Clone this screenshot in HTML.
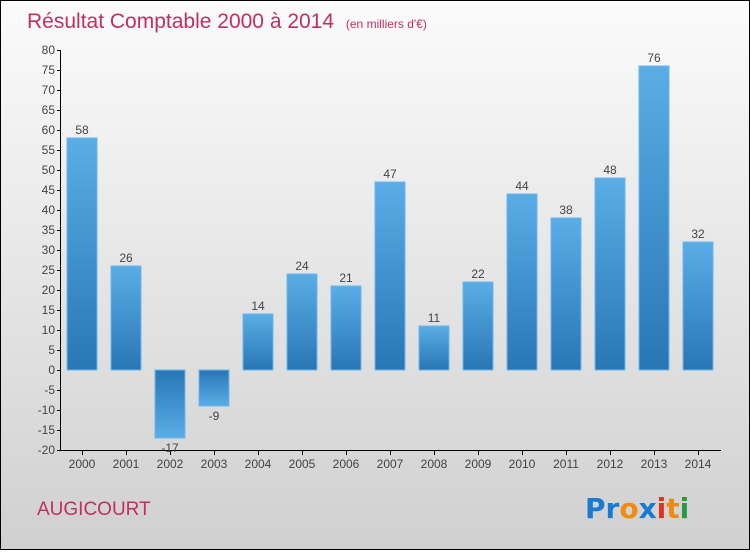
<!DOCTYPE html>
<html><head><meta charset="utf-8"><style>
html,body{margin:0;padding:0}
body{width:750px;height:550px;overflow:hidden;font-family:"Liberation Sans",sans-serif}
#wrap{position:absolute;left:0;top:0;width:748px;height:548px;border:1px solid #000;background:linear-gradient(#fbfbfb,#d0d0d0)}
</style></head><body>
<div id="wrap">
<svg id="chart" width="748" height="548" xmlns="http://www.w3.org/2000/svg">
<defs>
<linearGradient id="gp" x1="0" y1="0" x2="0" y2="1"><stop offset="0" stop-color="#5aade6"/><stop offset="1" stop-color="#2777b5"/></linearGradient>
<linearGradient id="gn" x1="0" y1="0" x2="0" y2="1"><stop offset="0" stop-color="#2777b5"/><stop offset="1" stop-color="#5aade6"/></linearGradient>
</defs>
<text x="26" y="27" font-size="21" fill="#c0305e">Résultat Comptable 2000 à 2014 <tspan font-size="12" dx="6">(en milliers d'€)</tspan></text>
<text x="36" y="514" font-size="19" fill="#c0305e">AUGICOURT</text>
<g font-size="28" font-weight="bold" font-family="'DejaVu Sans',sans-serif">
<text x="584" y="517"><tspan fill="#1a7ad0">Pr</tspan><tspan fill="#f08a10">o</tspan><tspan fill="#1a7ad0">x</tspan><tspan fill="#e03020">i</tspan><tspan fill="#f08a10">t</tspan><tspan fill="#2a9a40">i</tspan></text>
</g>
<g id="axes"></g><g id="bars"></g>
</svg></div>
<script>
const years=["2000","2001","2002","2003","2004","2005","2006","2007","2008","2009","2010","2011","2012","2013","2014"];
const values=[58,26,-17,-9,14,24,21,47,11,22,44,38,48,76,32];
const yTicks=[-20,-15,-10,-5,0,5,10,15,20,25,30,35,40,45,50,55,60,65,70,75,80];
const NS="http://www.w3.org/2000/svg";
const y=v=>369-(v*4);
const x=i=>81+i*44;
function mk(t,a,p){const e=document.createElementNS(NS,t);for(const k in a)e.setAttribute(k,a[k]);p.appendChild(e);return e;}
const ax=document.getElementById('axes'),bs=document.getElementById('bars');
let l=mk('line',{x1:59.5,y1:49,x2:59.5,y2:449.5,stroke:'#000'},ax);


l=mk('line',{x1:59,y1:449.5,x2:720,y2:449.5,stroke:'#000'},ax);


yTicks.forEach(v=>{
  mk('line',{x1:56,x2:60,y1:y(v)+.5,y2:y(v)+.5,stroke:'#000'},ax);
  const t=mk('text',{x:54,y:y(v)+4,'font-size':12,fill:'#444','text-anchor':'end'},ax);
  t.textContent=v;
  
  
});
years.forEach((yr,i)=>{
  const cx=x(i),v=values[i];
  mk('line',{x1:cx+.5,x2:cx+.5,y1:450,y2:454,stroke:'#000'},ax);
  const t=mk('text',{x:cx,y:467,'font-size':12,fill:'#444','text-anchor':'middle'},ax);
  t.textContent=yr;
  
  
  const top=Math.min(y(v),y(0)),h=Math.abs(y(v)-y(0));
  const r=mk('rect',{x:cx-15,y:top,width:30,height:h,fill:v>=0?'url(#gp)':'url(#gn)',stroke:'#6ab8ee','stroke-width':1},bs);
  
  
  const lb=mk('text',{x:cx,y:v>=0?y(v)-4:y(v)+14,'font-size':12,fill:'#444','text-anchor':'middle'},bs);
  lb.textContent=v;
  
  
});
</script>
</body></html>
